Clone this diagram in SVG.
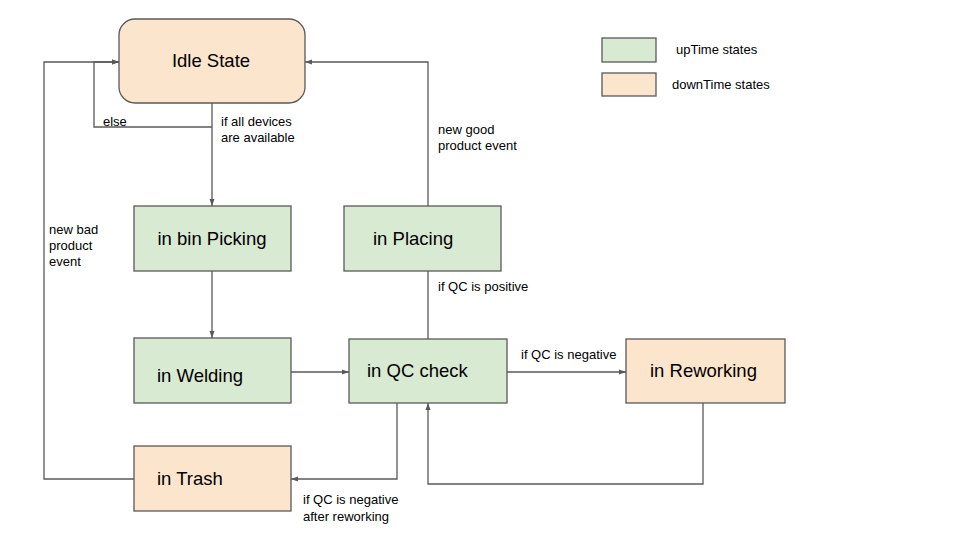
<svg xmlns="http://www.w3.org/2000/svg" width="960" height="540" viewBox="0 0 960 540">
<style>
.up{fill:#d9ead3;stroke:#595959;stroke-width:1.3}
.down{fill:#fce5cd;stroke:#595959;stroke-width:1.3}
.nt{font-family:"Liberation Sans",Arial,sans-serif;font-size:18.5px;fill:#000}
.lt{font-family:"Liberation Sans",Arial,sans-serif;font-size:13px;fill:#000}
.c{fill:none;stroke:#595959;stroke-width:1.3}
</style>
<defs>
<marker id="ah" markerWidth="8" markerHeight="8" refX="7" refY="4" orient="auto" markerUnits="userSpaceOnUse">
<path d="M0,1.5 L7,4 L0,6.5 Z" fill="#595959"/>
</marker>
</defs>
<rect width="960" height="540" fill="#fff"/>
<g id="connectors">
<path class="c" d="M212,103 V206" marker-end="url(#ah)"/>
<path class="c" d="M212,127 H94 V62 H119" marker-end="url(#ah)"/>
<path class="c" d="M134,479 H44 V62 H119" marker-end="url(#ah)"/>
<path class="c" d="M428,206 V62 H305" marker-end="url(#ah)"/>
<path class="c" d="M212,271 V338" marker-end="url(#ah)"/>
<path class="c" d="M291,372 H349" marker-end="url(#ah)"/>
<path class="c" d="M428,339 V271"/>
<path class="c" d="M507,372 H626" marker-end="url(#ah)"/>
<path class="c" d="M703,403 V484 H428 V403" marker-end="url(#ah)"/>
<path class="c" d="M397,403 V479 H291" marker-end="url(#ah)"/>
<text class="lt" x="103" y="126">else</text>
<text class="lt" x="221" y="126">if all devices</text>
<text class="lt" x="221" y="142">are available</text>
<text class="lt" x="49" y="234">new bad</text>
<text class="lt" x="49" y="250">product</text>
<text class="lt" x="49" y="266">event</text>
<text class="lt" x="438" y="134">new good</text>
<text class="lt" x="438" y="150">product event</text>
<text class="lt" x="438" y="291">if QC is positive</text>
<text class="lt" x="521" y="359">if QC is negative</text>
<text class="lt" x="303" y="504">if QC is negative</text>
<text class="lt" x="303" y="521">after reworking</text>
</g>
<g id="idle">
<rect class="down" x="119" y="19" width="186" height="84" rx="16"/>
<text class="nt" x="211" y="67" text-anchor="middle">Idle State</text>
</g>
<g id="picking">
<rect class="up" x="134" y="206" width="157" height="65"/>
<text class="nt" x="212" y="245" text-anchor="middle">in bin Picking</text>
</g>
<g id="placing">
<rect class="up" x="344" y="206" width="157" height="65"/>
<text class="nt" x="373" y="245">in Placing</text>
</g>
<g id="welding">
<rect class="up" x="134" y="338" width="157" height="65"/>
<text class="nt" x="157" y="382">in Welding</text>
</g>
<g id="qc">
<rect class="up" x="349" y="339" width="158" height="64"/>
<text class="nt" x="367" y="377">in QC check</text>
</g>
<g id="reworking">
<rect class="down" x="626" y="339" width="159" height="64"/>
<text class="nt" x="650" y="377">in Reworking</text>
</g>
<g id="trash">
<rect class="down" x="134" y="446" width="157" height="65"/>
<text class="nt" x="157" y="485">in Trash</text>
</g>
<g id="legend">
<rect class="up" x="602" y="38" width="54" height="24"/>
<text class="lt" x="676" y="54">upTime states</text>
<rect class="down" x="602" y="73" width="54" height="23"/>
<text class="lt" x="672" y="89">downTime states</text>
</g>
</svg>
